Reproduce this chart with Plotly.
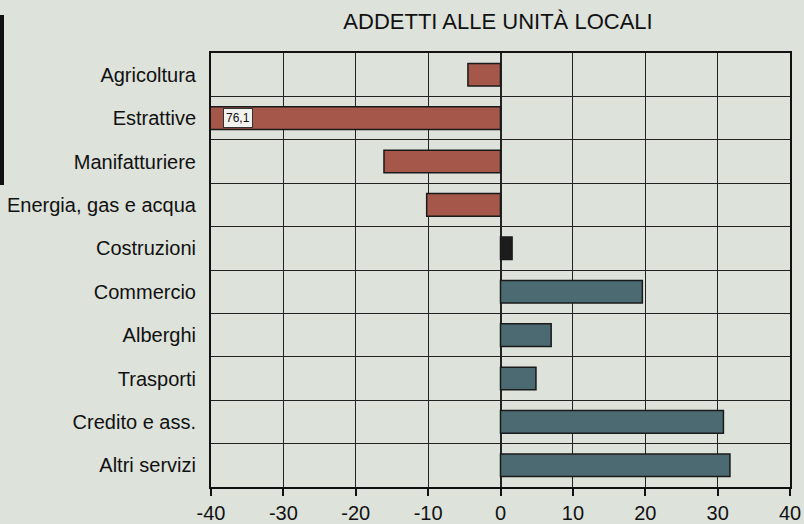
import plotly.graph_objects as go

categories = ["Agricoltura", "Estrattive", "Manifatturiere", "Energia, gas e acqua",
              "Costruzioni", "Commercio", "Alberghi", "Trasporti",
              "Credito e ass.", "Altri servizi"]
values = [-4.5, -76.1, -16.1, -10.2, 1.6, 19.6, 7.0, 4.9, 30.8, 31.7]
colors = ["#a5574a"] * 4 + ["#1c1c1c"] + ["#4b6a72"] * 5
x_ticks = [-40, -30, -20, -10, 0, 10, 20, 30, 40]
title = "ADDETTI ALLE UNITÀ LOCALI"
clipped_label = "76,1"

BG = "#dde2da"
FONT = "Liberation Sans, Arial"

fig = go.Figure(go.Bar(
    y=categories, x=values, orientation="h",
    marker=dict(color=colors, line=dict(color="#1a1a1a", width=1.5)),
    width=0.52,
))

fig.add_annotation(
    x=-38.4, y=categories[1], xref="x", yref="y", text=clipped_label,
    showarrow=False, xanchor="left", bgcolor="#f2f2ee", bordercolor="#333",
    borderwidth=1, borderpad=2, font=dict(family=FONT, size=12, color="#111"),
)

fig.add_shape(type="rect", xref="paper", yref="paper", x0=-211/579, x1=-207/579,
              y0=1 + 38/434, y1=1 - 132/434, fillcolor="#111", line_width=0)

fig.update_layout(
    width=804, height=524,
    margin=dict(l=211, r=14, t=53, b=37),
    paper_bgcolor=BG, plot_bgcolor=BG,
    showlegend=False,
    title=dict(text=title, x=498/804, xanchor="center", y=1 - 21/524, yanchor="middle",
               font=dict(family=FONT, size=22, color="#111")),
    font=dict(family=FONT, color="#111"),
)
fig.update_xaxes(
    range=[-40, 40], tickvals=x_ticks, ticktext=[str(t) for t in x_ticks],
    ticks="outside", ticklen=7, tickwidth=1.5, tickcolor="#111",
    showgrid=True, gridcolor="#222", gridwidth=1.3, zeroline=True, zerolinecolor="#222",
    zerolinewidth=1.5, automargin=False,
    showline=True, linecolor="#111", linewidth=2, mirror=True,
    tickfont=dict(family=FONT, size=20, color="#111"),
)
fig.update_yaxes(
    autorange="reversed", tickson="boundaries", ticks="", showgrid=True,
    gridcolor="#222", gridwidth=1.3, automargin=False,
    showline=True, linecolor="#111", linewidth=2, mirror=True,
    tickfont=dict(family=FONT, size=20, color="#111"), ticklabelstandoff=9,
)

fig.write_html("out.html", config={"displayModeBar": False},
               post_script="document.body.style.margin='0px';")
